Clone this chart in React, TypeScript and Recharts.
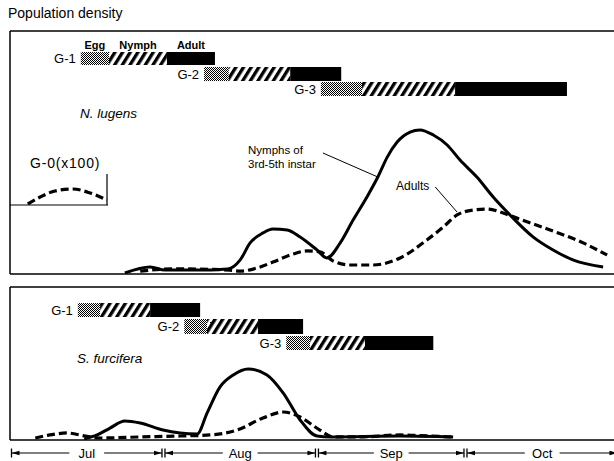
import React from 'react';
import { LineChart, Line, XAxis, YAxis, ReferenceArea, ReferenceLine, Label } from 'recharts';

// ---------- data ----------
const X_MAX = 122; // days since 1 Jul shown
const MONTHS = ['Jul', 'Aug', 'Sep', 'Oct'];
const MONTH_DAYS = [31, 31, 30, 31];
const MONTH_START = [0, 31, 62, 92];
const MONTH_MID = MONTH_START.map((s, i) => s + MONTH_DAYS[i] / 2);

const GENS = ['G-1', 'G-2', 'G-3'];
const STAGES = ['Egg', 'Nymph', 'Adult'];

// N. lugens generations (day ranges)
const NL_EGG = [[14.3, 20.0], [39.2, 44.2], [62.8, 71.1]];
const NL_NYMPH_RANGE = [[20.0, 31.7], [44.2, 56.6], [71.1, 89.9]];
const NL_ADULT_RANGE = [[31.7, 41.4], [56.6, 66.9], [89.9, 112.5]];

// S. furcifera generations (day ranges)
const SF_EGG = [[13.7, 18.2], [35.2, 39.8], [55.8, 60.6]];
const SF_NYMPH_RANGE = [[18.2, 28.3], [39.8, 50.1], [60.6, 71.7]];
const SF_ADULT_RANGE = [[28.3, 38.4], [50.1, 59.2], [71.7, 85.5]];

// N. lugens nymphs (3rd-5th instar)
const NL_NYMPH_DAYS = [23.2, 28.3, 31.3, 37.4, 44.0, 46.5, 48.5, 51.1, 53.1, 56.0, 58.6, 62.0, 64.0, 66.7, 69.3, 72.1, 74.3, 76.2, 78.2, 80.8, 82.8, 85.5, 88.3, 90.9, 94.3, 97.6, 101.0, 105.7, 109.7, 113.7, 119.8];
const NL_NYMPH_VALS = [0.4, 2.9, 1.6, 1.6, 2.1, 5.8, 12.8, 16.9, 18.5, 18.1, 15.2, 9.9, 6.6, 12.8, 22.2, 31.7, 39.9, 48.1, 54.3, 58.4, 59.3, 57.2, 53.1, 46.9, 39.9, 31.7, 24.3, 15.2, 9.9, 5.8, 2.9];

// N. lugens adults
const NL_ADULT_DAYS = [26.3, 33.3, 44.4, 46.5, 49.9, 53.1, 57.2, 60.0, 62.6, 65.3, 68.7, 73.3, 78.8, 84.2, 87.5, 90.3, 93.5, 96.4, 99.6, 102.4, 109.1, 115.8, 120.6];
const NL_ADULT_VALS = [1.2, 2.1, 1.6, 1.2, 2.5, 4.9, 8.2, 9.5, 9.1, 5.3, 3.7, 3.7, 6.6, 14.0, 19.3, 24.3, 26.3, 26.7, 25.1, 23.0, 18.1, 12.8, 7.8];

// N. lugens G-0 adults (x100)
const G0_DAYS = [3.6, 6.1, 9.1, 12.7, 16.2, 19.6];
const G0_VALS = [0.2, 1.6, 2.8, 3.2, 2.4, 1.0];

// S. furcifera nymphs
const SF_NYMPH_DAYS = [15.0, 17.6, 20.2, 23.2, 26.3, 30.9, 37.8, 39.8, 42.4, 45.1, 48.1, 51.9, 55.2, 58.6, 62.0, 64.6, 78.8, 89.5];
const SF_NYMPH_VALS = [0.7, 3.3, 7.8, 12.4, 11.1, 6.5, 3.9, 17.6, 34.6, 42.5, 46.4, 42.5, 30.7, 13.1, 2.6, 2.0, 2.6, 2.0];

// S. furcifera adults
const SF_ADULT_DAYS = [5.1, 8.1, 11.5, 15.2, 18.2, 26.3, 34.3, 40.4, 45.9, 51.1, 55.2, 58.6, 62.6, 65.3, 70.7, 78.8, 84.8, 89.5];
const SF_ADULT_VALS = [1.3, 3.3, 4.6, 2.6, 1.3, 2.0, 2.6, 3.3, 6.5, 14.4, 18.3, 15.0, 6.5, 2.0, 2.0, 3.3, 2.6, 2.0];

const zip = (d: number[], v: number[]) => d.map((x, i) => ({ d: x, v: v[i] }));

// ---------- layout ----------
const W = 614;
const PLOT_LEFT = 10;
const PLOT_W = W - PLOT_LEFT;
const PX_PER_DAY = PLOT_W / X_MAX;
const FONT = '"Liberation Sans", Arial, sans-serif';

const NL_BANDS = [[86.0, 91.4], [79.4, 85.2], [73.3, 79.0]];
const SF_BANDS = [[80.4, 89.5], [69.3, 79.1], [58.8, 68.0]];

function MonthTick(props: any) {
  const { x, y, payload } = props;
  const i = MONTH_MID.indexOf(payload.value);
  if (i < 0) return null;
  const half = (MONTH_DAYS[i] / 2) * PX_PER_DAY;
  const x0 = x - half + 1.5;
  const x1 = x + half - 1.5;
  const ly = y + 13;
  const lw = (MONTHS[i].length * 7.6) / 2 + 6;
  return (
    <g>
      <line x1={x0} y1={ly - 4.5} x2={x0} y2={ly + 4.5} stroke="#000" strokeWidth={1.3} />
      <line x1={x1} y1={ly - 4.5} x2={x1} y2={ly + 4.5} stroke="#000" strokeWidth={1.3} />
      <line x1={x0} y1={ly} x2={x - lw} y2={ly} stroke="#000" strokeWidth={1.2} />
      <line x1={x + lw} y1={ly} x2={x1} y2={ly} stroke="#000" strokeWidth={1.2} />
      <polygon points={`${x0},${ly} ${x0 + 8},${ly - 2.2} ${x0 + 8},${ly + 2.2}`} fill="#000" />
      <polygon points={`${x1},${ly} ${x1 - 8},${ly - 2.2} ${x1 - 8},${ly + 2.2}`} fill="#000" />
      <text x={x} y={ly + 5} textAnchor="middle" fontSize={13} fontFamily={FONT} fill="#000">
        {MONTHS[i]}
      </text>
    </g>
  );
}

const labelStyle = { fontSize: 13, fill: '#000', fontFamily: FONT };
const stageStyle = { fontSize: 11, fill: '#000', fontFamily: FONT, fontWeight: 'bold' as const };

function genAreas(
  prefix: string,
  egg: number[][],
  nymph: number[][],
  adult: number[][],
  bands: number[][],
  withStages: boolean
) {
  const out: any[] = [];
  GENS.forEach((g, i) => {
    const [y1, y2] = bands[i];
    out.push(
      <ReferenceArea key={`${prefix}e${i}`} x1={egg[i][0]} x2={egg[i][1]} y1={y1} y2={y2}
        fill="url(#eggPat)" fillOpacity={1} stroke="none" ifOverflow="visible">
        <Label value={g} position="left" offset={5} {...labelStyle} />
        {withStages && i === 0 ? <Label value={STAGES[0]} position="top" offset={3} {...stageStyle} /> : null}
      </ReferenceArea>
    );
    out.push(
      <ReferenceArea key={`${prefix}n${i}`} x1={nymph[i][0]} x2={nymph[i][1]} y1={y1} y2={y2}
        fill="url(#hatchPat)" fillOpacity={1} stroke="none" ifOverflow="visible">
        {withStages && i === 0 ? <Label value={STAGES[1]} position="top" offset={3} {...stageStyle} /> : null}
      </ReferenceArea>
    );
    out.push(
      <ReferenceArea key={`${prefix}a${i}`} x1={adult[i][0]} x2={adult[i][1]} y1={y1} y2={y2}
        fill="#000" fillOpacity={1} stroke="none" ifOverflow="visible">
        {withStages && i === 0 ? <Label value={STAGES[2]} position="top" offset={3} {...stageStyle} /> : null}
      </ReferenceArea>
    );
  });
  return out;
}

const solid = { stroke: '#000', strokeWidth: 3, dot: false, isAnimationActive: false, type: 'monotone' as const };
const dashed = { stroke: '#000', strokeWidth: 3.2, strokeDasharray: '8 4', dot: false, isAnimationActive: false, type: 'monotone' as const };

export default function App() {
  return (
    <div style={{ position: 'absolute', left: 0, top: 0, width: 614, height: 461, background: '#fff', overflow: 'hidden' }}>
      <svg width={0} height={0} style={{ position: 'absolute' }}>
        <defs>
          <pattern id="eggPat" width={2} height={2} patternUnits="userSpaceOnUse">
            <rect x={0} y={0} width={2} height={2} fill="#fff" />
            <rect x={0} y={0} width={1} height={1} fill="#000" />
            <rect x={1} y={1} width={1} height={1} fill="#000" />
          </pattern>
          <pattern id="hatchPat" width={6.5} height={6.5} patternUnits="userSpaceOnUse" patternTransform="rotate(32)">
            <rect x={0} y={0} width={6.5} height={6.5} fill="#fff" />
            <rect x={0} y={0} width={3.3} height={6.5} fill="#000" />
          </pattern>
        </defs>
      </svg>

      {/* top panel: N. lugens */}
      <div style={{ position: 'absolute', left: 0, top: 0 }}>
        <LineChart width={W} height={280} margin={{ top: 31, right: 0, left: PLOT_LEFT, bottom: 6 }}>
          <XAxis type="number" dataKey="d" domain={[0, X_MAX]} hide allowDataOverflow />
          <YAxis type="number" domain={[0, 100]} hide allowDataOverflow />
          <ReferenceLine y={100} stroke="#000" strokeWidth={1.5} />
          <ReferenceLine x={0} stroke="#000" strokeWidth={1.5} />
          <ReferenceLine y={0} stroke="#000" strokeWidth={1.5} />
          {genAreas('nl', NL_EGG, NL_NYMPH_RANGE, NL_ADULT_RANGE, NL_BANDS, true)}
          <Line data={zip(NL_ADULT_DAYS, NL_ADULT_VALS)} dataKey="v" {...dashed} />
          <Line data={zip(NL_NYMPH_DAYS, NL_NYMPH_VALS)} dataKey="v" {...solid} />
          <ReferenceLine segment={[{ x: 63.2, y: 49.8 }, { x: 74.3, y: 39.9 }]} stroke="#000" strokeWidth={1} />
          <ReferenceLine segment={[{ x: 85.9, y: 35.8 }, { x: 90.3, y: 25.5 }]} stroke="#000" strokeWidth={1} />
        </LineChart>
      </div>

      {/* inset: G-0 */}
      <div style={{ position: 'absolute', left: 10, top: 150 }}>
        <LineChart width={100} height={57} margin={{ top: 0, right: 2, left: 0, bottom: 2 }}>
          <XAxis type="number" dataKey="d" domain={[0, 19.8]} hide allowDataOverflow />
          <YAxis type="number" domain={[0, 11]} hide allowDataOverflow />
          <ReferenceLine y={0} stroke="#000" strokeWidth={1.2} />
          <ReferenceLine segment={[{ x: 19.6, y: 0 }, { x: 19.6, y: 6.2 }]} stroke="#000" strokeWidth={1.2} />
          <Line data={zip(G0_DAYS, G0_VALS)} dataKey="v" {...dashed} />
        </LineChart>
      </div>

      {/* bottom panel: S. furcifera */}
      <div style={{ position: 'absolute', left: 0, top: 280 }}>
        <LineChart width={W} height={181} margin={{ top: 7, right: 0, left: PLOT_LEFT, bottom: 0 }}>
          <XAxis type="number" dataKey="d" domain={[0, X_MAX]} allowDataOverflow ticks={MONTH_MID}
            interval={0} height={21} axisLine={false} tickLine={false} tickSize={0} tickMargin={0}
            tick={<MonthTick />} />
          <YAxis type="number" domain={[0, 100]} hide allowDataOverflow />
          <ReferenceLine y={100} stroke="#000" strokeWidth={1.5} />
          <ReferenceLine x={0} stroke="#000" strokeWidth={1.5} />
          <ReferenceLine y={0} stroke="#000" strokeWidth={1.5} />
          {genAreas('sf', SF_EGG, SF_NYMPH_RANGE, SF_ADULT_RANGE, SF_BANDS, false)}
          <Line data={zip(SF_ADULT_DAYS, SF_ADULT_VALS)} dataKey="v" {...dashed} />
          <Line data={zip(SF_NYMPH_DAYS, SF_NYMPH_VALS)} dataKey="v" {...solid} />
        </LineChart>
      </div>

      {/* text overlay */}
      <svg width={614} height={461} style={{ position: 'absolute', left: 0, top: 0, pointerEvents: 'none' }}>
        <g fontFamily={FONT} fill="#000">
          <text x={8} y={18} fontSize={14}>Population density</text>
          <text x={30} y={168} fontSize={14} letterSpacing={0.8}>G-0(x100)</text>
          <text x={80} y={118} fontSize={13.5} fontStyle="italic">N. lugens</text>
          <text x={248} y={154} fontSize={11.5}>Nymphs of</text>
          <text x={248} y={168} fontSize={11.5}>3rd-5th instar</text>
          <text x={396} y={190} fontSize={12}>Adults</text>
          <text x={77} y={363} fontSize={13.5} fontStyle="italic">S. furcifera</text>
        </g>
      </svg>
    </div>
  );
}
